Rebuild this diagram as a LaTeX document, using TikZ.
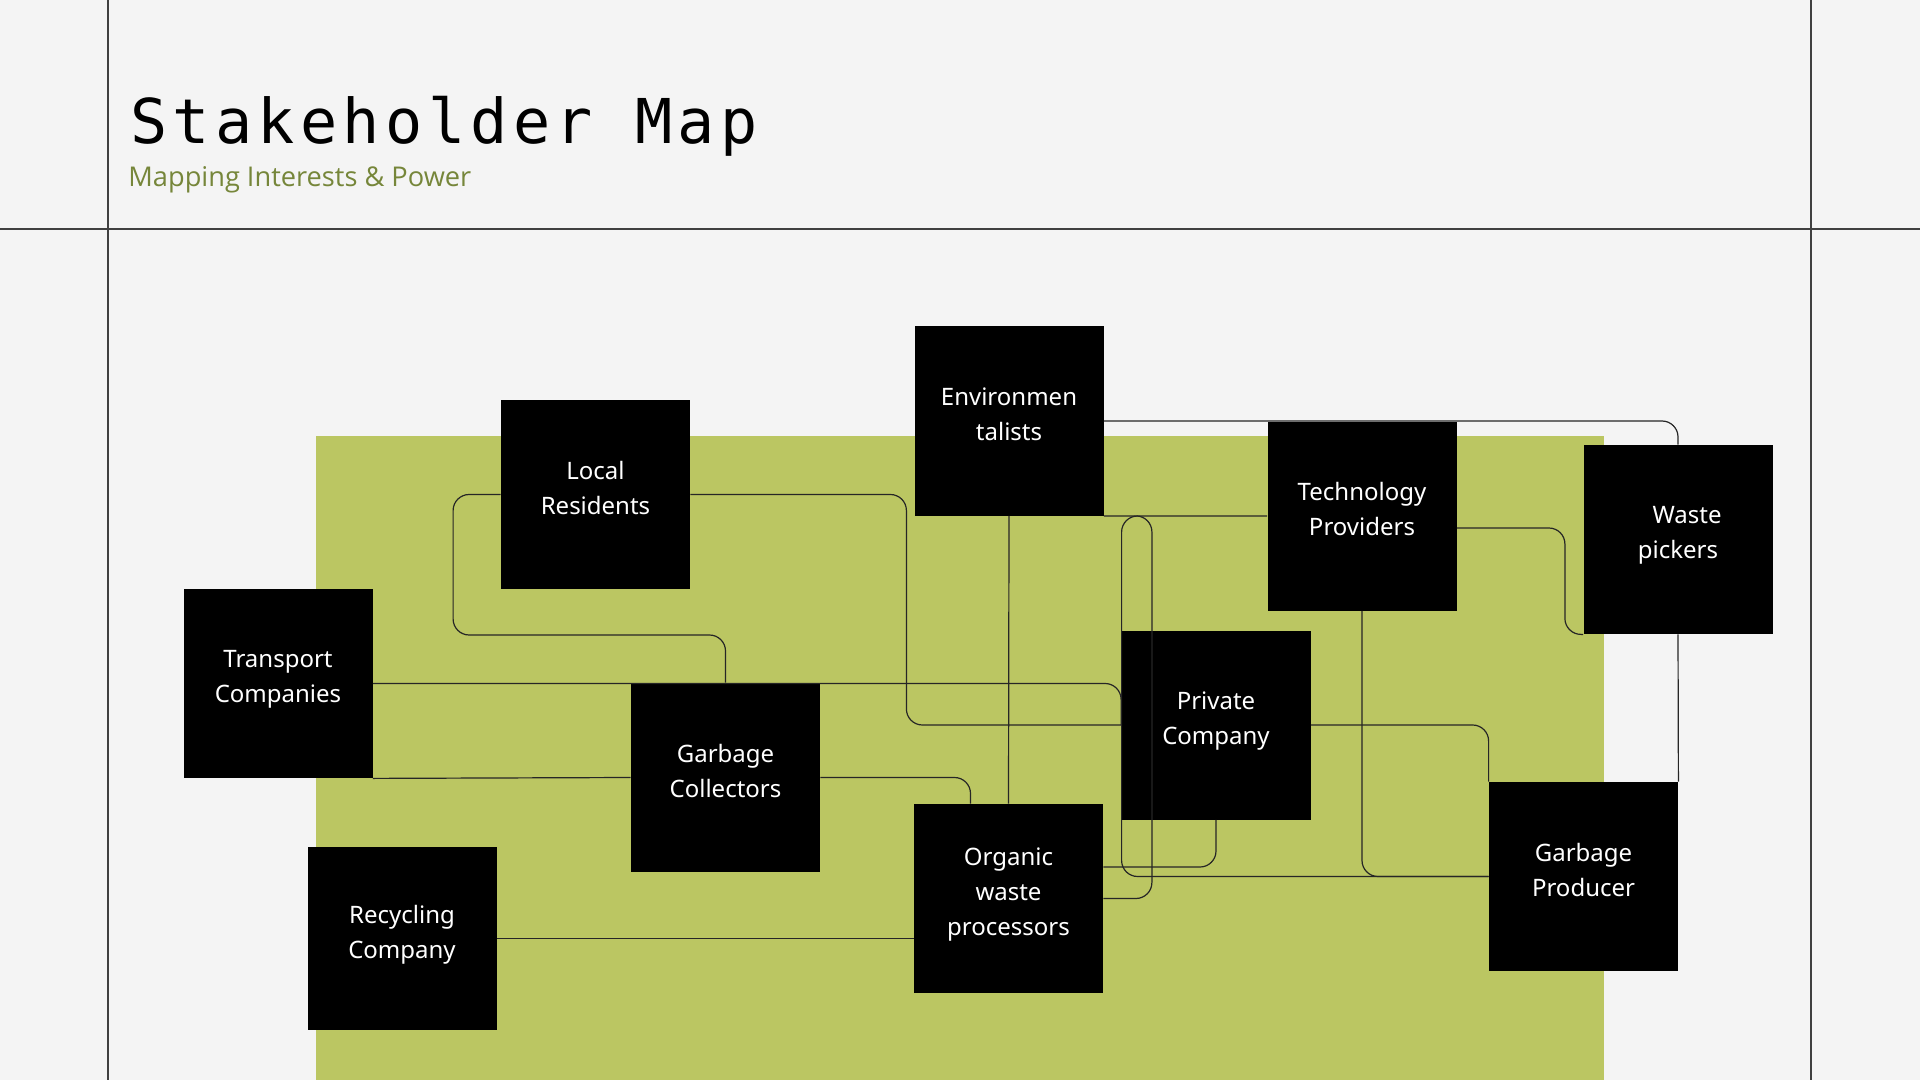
\documentclass[tikz,border=0pt]{standalone}
\usepackage{fontspec}
\setmainfont{Noto Sans}
\newfontfamily\titlefont[LetterSpace=8.6]{DejaVu Sans Mono}
\newfontfamily\subfont{Open Sans}
\definecolor{paper}{HTML}{F4F4F4}
\definecolor{leaf}{HTML}{BBC662}
\definecolor{subgreen}{HTML}{76863A}
\tikzset{
    actor/.style={rectangle,fill=black,text=white,minimum size=94.5pt,inner sep=0,align=center,text depth=7pt,font=\fontsize{12}{17.5}\selectfont},
    link/.style={draw=black!85,line width=0.6pt,rounded corners=8pt},
    rule/.style={draw=black!75,line width=0.6pt}
}

\begin{document}
\begin{tikzpicture}[x=0.5pt,y=-0.5pt]
    \fill[paper] (0,0) rectangle (1920,1080);
    \useasboundingbox (0,0) rectangle (1920,1080);
    \draw[rule] (108,0) -- (108,1080);
    \draw[rule] (1811,0) -- (1811,1080);
    \draw[rule] (0,229) -- (1920,229);
    \fill[leaf] (316,436) rectangle (1604,1080);

    \node[anchor=base west,inner sep=0,font=\titlefont\fontsize{30.9}{36}\selectfont] (title) at (130,144) {Stakeholder Map};
    \node[anchor=base west,inner sep=0,text=subgreen,font=\subfont\fontsize{13.6}{16}\selectfont] (subtitle) at (128,187) {Mapping Interests \& Power};

    \node[actor] (LR) at (595.5,494.5) {Local\\Residents};
    \node[actor] (Env) at (1009,421) {Environmen\\talists};
    \node[actor] (TP) at (1362,516) {Technology\\Providers};
    \node[actor] (WP) at (1678,539.5) {\hspace*{9pt}Waste\\pickers};
    \node[actor] (TC) at (278,683.5) {Transport\\Companies};
    \node[actor] (GC) at (725.5,777.5) {Garbage\\Collectors};
    \node[actor] (PC) at (1216,725) {Private\\Company};
    \node[actor] (OWP) at (1008.5,898.5) {Organic\\waste\\processors};
    \node[actor,minimum height=91.5pt] (RC) at (402,938.5) {Recycling\\Company};
    \node[actor] (GP) at (1583.5,876.5) {Garbage\\Producer};

    \draw[link] (LR.west) -- ++(-47.5,0) -- ++(0,140.5) -| (GC.north);
    \draw[link] (LR.east) -- ++(216,0) |- (PC.west);
    \draw[link] (TC.east) -| (PC.west);
    \draw[link] (TC.south east) -- (GC.west);
    \draw[link] (GC.east) -| ([xshift=-19pt]OWP.north);
    \draw[link] (Env.south) -- (OWP.north);
    \draw[link] (Env.east) -| (WP.north);
    \draw[link] (WP.south) -- (GP.north east);
    \draw[link] (TP.west) -- ++(-145.5,0) |- (GP.west);
    \draw[link] (Env.south east) -- ++(48,0) |- (OWP.east);
    \draw[link] (TP.south) |- (GP.west);
    \draw[link] (PC.south) |- ([yshift=15.75pt]OWP.east);
    \draw[link] (PC.east) -| (GP.north west);
    \draw[link] ([yshift=-6pt]TP.east) -- ++(108,0) |- (WP.south west);
    \draw[link] (RC.east) -- (RC.east -| OWP.west);
\end{tikzpicture}
\end{document}
